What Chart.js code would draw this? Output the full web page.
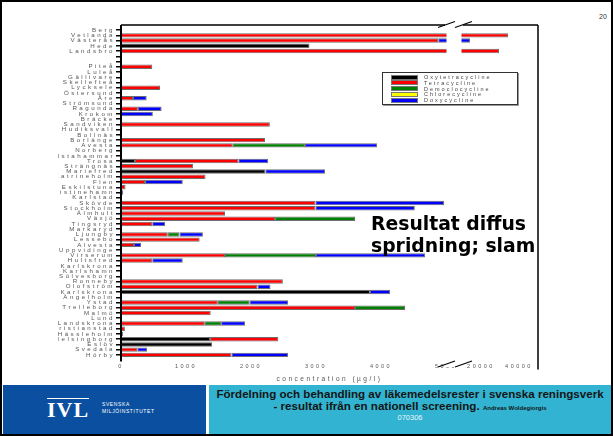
<!DOCTYPE html>
<html>
<head>
<meta charset="utf-8">
<script src="https://cdn.jsdelivr.net/npm/chart.js@4/dist/chart.umd.min.js"></script>
<style>
html, body { margin: 0; padding: 0; background: #fff; }
#slide { position: relative; width: 613px; height: 436px; overflow: hidden; background: #fff; font-family: "Liberation Sans", Arial, sans-serif; }
#frame { position: absolute; left: 0; top: 0; width: 609px; height: 432px; border: 2px solid #000; pointer-events: none; z-index: 5; }
#chartWrap { position: absolute; left: 58px; top: 12px; width: 490px; height: 373px; }
#pageNo { position: absolute; left: 599px; top: 13px; font-size: 7px; color: #333; }
#bigText { position: absolute; left: 371px; top: 213px; font-family: "DejaVu Sans", sans-serif; font-size: 18.8px; font-weight: bold; line-height: 22px; color: #000; }
#legend { position: absolute; left: 382px; top: 72px; width: 134px; height: 31px; border: 1px solid #333; box-shadow: 1px 1px 0 #999; background: #fff; }
.lg { position: absolute; left: 8px; height: 6px; font-size: 5.5px; letter-spacing: 2px; color: #444; white-space: nowrap; line-height: 6px; }
.lg i { display: inline-block; width: 25px; height: 3px; border: 1px solid #777; vertical-align: middle; margin-right: 6px; margin-top: -1px; }
#footBlue { position: absolute; left: 3px; top: 385px; width: 203px; height: 49px; background: #0b50a0; }
#footCyan { position: absolute; left: 209px; top: 385px; width: 402px; height: 49px; background: #31b3d1; text-align: center; }
#ivl { position: absolute; left: 47px; top: 398px; font-family: "Liberation Serif", "DejaVu Serif", serif; font-weight: bold; font-size: 22px; color: #fff; letter-spacing: 1px; line-height: 20px; border-top: 1px solid #fff; padding-top: 1px; }
#ivlSub { position: absolute; left: 102px; top: 401px; font-size: 5px; line-height: 7px; color: #fff; letter-spacing: 0.6px; }
.f1 { position: absolute; left: 0; width: 402px; top: 2px; font-size: 11.6px; font-weight: bold; color: #151515; white-space: nowrap; }
.f2 { position: absolute; left: 0; width: 402px; top: 14px; font-size: 11.6px; font-weight: bold; color: #151515; white-space: nowrap; }
.f2 small { font-size: 6px; }
.f3 { position: absolute; left: 0; width: 402px; top: 28px; font-size: 7.5px; color: #e9f5fb; }
</style>
</head>
<body>
<div id="slide">
  <div id="chartWrap"><canvas id="graficoBarras" width="490" height="373"></canvas></div>
  <div id="legend"></div>
  <div id="bigText">Resultat diffus<br>spridning; slam</div>
  <div id="pageNo">20</div>
  <div id="footBlue"></div>
  <div id="ivl">IVL</div>
  <div id="ivlSub">SVENSKA<br>MILJÖINSTITUTET</div>
  <div id="footCyan">
    <div class="f1">Fördelning och behandling av läkemedelsrester i svenska reningsverk</div>
    <div class="f2">- resultat ifrån en nationell screening. <small>Andreas Woldegiorgis</small></div>
    <div class="f3">070306</div>
  </div>
  <div id="frame"></div>
</div>
<script>
// Reningsverk (uppifrån och ned)
const CATEGORIES = [
    'Berg', 'Vetlanda', 'Västerås', 'Hede', 'Landsbro', '', '', 'Piteå', 'Luleå', 'Gällivare',
    'Skellefteå', 'Lycksele', 'Östersund', 'Åre', 'Strömsund', 'Ragunda', 'Krokom', 'Bräcke', 'Sandviken', 'Hudiksvall',
    'Bollnäs', 'Borlänge', 'Avesta', 'Norberg', 'Hallstahammar', 'Trosa', 'Strängnäs', 'Mariefred', 'Katrineholm', 'Flen',
    'Eskilstuna', 'Kristinehamn', 'Karlstad', 'Skövde', 'Stockholm', 'Älmhult', 'Växjö', 'Tingsryd', 'Markaryd', 'Ljungby',
    'Lessebo', 'Alvesta', 'Uppvidinge', 'Virserum', 'Hultsfred', 'Karlskrona', 'Karlshamn', 'Sölvesborg', 'Ronneby', 'Olofström',
    'Karlskrona', 'Ängelholm', 'Ystad', 'Trelleborg', 'Malmö', 'Lund', 'Landskrona', 'Kristianstad', 'Hässleholm', 'Helsingborg',
    'Eslöv', 'Svedala', 'Hörby'
];

const SERIES_NAMES = ['Oxytetracycline', 'Tetracycline', 'Democlocycline', 'Chlorecycline', 'Doxycycline'];
const SERIES_COLORS = ['#000000', '#ff0000', '#008000', '#ffff00', '#0000ff'];

// µg/l, null = ingen stapel
const OXYTETRACYCLINE = [
    null, null, null, 2900, null, null, null, null, null, null,
    null, null, null, null, null, null, null, null, null, null,
    null, null, null, null, null, 215, null, 2220, null, null,
    null, null, null, null, null, null, null, null, null, null,
    null, null, null, null, null, null, null, null, null, null,
    3830, null, null, null, null, null, null, null, null, 1370,
    1400, null, null
];
const TETRACYCLINE = [
    null, 34200, 4880, null, 29500, null, null, 480, null, null,
    null, 600, null, 185, null, 260, null, null, 2290, null,
    null, 2215, 1720, null, null, 1590, 1110, null, 1300, 370,
    70, null, null, 2990, 2990, 1600, 2370, 480, null, 720,
    1210, 200, null, 1600, 480, null, null, null, 2490, 2100,
    null, null, 1490, 3600, 1380, null, 1290, 60, null, 1050,
    null, 250, 1700
];
const DEMECLOCYCLINE = [
    null, null, null, null, null, null, null, null, null, null,
    null, null, null, null, null, null, null, null, null, null,
    null, null, 1110, null, null, null, null, null, null, null,
    null, null, null, null, null, null, 1230, null, null, 180,
    null, null, null, 1400, null, null, null, null, null, null,
    null, null, 490, 770, null, null, 250, null, null, null,
    null, null, null
];
const CHLORECYCLINE = [
    null, null, null, null, null, null, null, null, null, null,
    null, null, null, null, null, null, null, null, null, null,
    null, null, null, null, null, null, null, null, null, null,
    null, null, null, null, null, null, null, null, null, null,
    null, null, null, null, null, null, null, null, null, null,
    null, null, null, null, null, null, null, null, null, null,
    null, null, null
];
const DOXYCYCLINE = [
    null, null, 9320, null, null, null, null, null, null, null,
    null, null, null, 210, null, 365, 490, null, null, null,
    null, null, 1110, null, null, 460, null, 920, null, 580,
    null, 35, null, 1980, 1530, null, null, 200, null, 360,
    null, 110, null, 1680, 470, null, null, null, null, 200,
    310, null, 590, null, null, null, 370, null, 30, null,
    null, 150, 870
];
const SERIES_DATA = [OXYTETRACYCLINE, TETRACYCLINE, DEMECLOCYCLINE, CHLORECYCLINE, DOXYCYCLINE];

const X_TICKS = [0, 1000, 2000, 3000, 4000, 5000, 20000, 40000];
const X_TITLE = 'concentration (µg/l)';

// bruten axel: 0-5000 linjärt, sedan avbrott, sedan 10000-50000
const BREAK_LOW = 5000, BREAK_HIGH = 10000, X_MAX = 50000;
const LOW_FRAC = 325 / 417, GAP_FRAC = 16 / 417;

function toFraction(v) {
    if (v <= BREAK_LOW) return v / BREAK_LOW * LOW_FRAC;
    if (v < BREAK_HIGH) return LOW_FRAC + (v - BREAK_LOW) / (BREAK_HIGH - BREAK_LOW) * GAP_FRAC;
    return LOW_FRAC + GAP_FRAC + (v - BREAK_HIGH) / (X_MAX - BREAK_HIGH) * (1 - LOW_FRAC - GAP_FRAC);
}
function fromFraction(f) {
    if (f <= LOW_FRAC) return f / LOW_FRAC * BREAK_LOW;
    if (f < LOW_FRAC + GAP_FRAC) return BREAK_LOW + (f - LOW_FRAC) / GAP_FRAC * (BREAK_HIGH - BREAK_LOW);
    return BREAK_HIGH + (f - LOW_FRAC - GAP_FRAC) / (1 - LOW_FRAC - GAP_FRAC) * (X_MAX - BREAK_HIGH);
}

class BrokenLinearScale extends Chart.LinearScale {
    buildTicks() {
        this.start = this.min;
        this.end = this.max;
        return X_TICKS.map(v => ({ value: v }));
    }
    getPixelForValue(value) {
        return this.getPixelForDecimal(toFraction(value));
    }
    getValueForPixel(pixel) {
        return fromFraction(this.getDecimalForPixel(pixel));
    }
}
BrokenLinearScale.id = 'brokenLinear';
BrokenLinearScale.defaults = {};
Chart.register(BrokenLinearScale);

// glesa bokstäver som i originalet
const spacingPlugin = {
    id: 'spacing',
    beforeDraw(chart) { chart.ctx.letterSpacing = '2.5px'; }
};

// ram, vit lucka och brytmarkeringar
const framePlugin = {
    id: 'frame',
    afterDatasetsDraw(chart) {
        const { ctx, chartArea: a, scales: { x } } = chart;
        const p1 = x.getPixelForValue(BREAK_LOW);
        const p2 = x.getPixelForValue(BREAK_HIGH);
        const top = a.top - 2.5;
        const bottom = a.bottom + 4;
        ctx.save();
        ctx.fillStyle = '#fff';
        ctx.fillRect(p1 + 0.5, a.top, p2 - p1 - 1, a.bottom - a.top);
        ctx.strokeStyle = '#000';
        ctx.lineWidth = 2;
        ctx.beginPath();
        ctx.moveTo(a.left, top); ctx.lineTo(a.left, bottom);
        ctx.stroke();
        ctx.lineWidth = 1.5;
        ctx.beginPath();
        ctx.moveTo(a.left, top); ctx.lineTo(p1, top);
        ctx.moveTo(p2, top); ctx.lineTo(a.right, top);
        ctx.moveTo(a.right, top); ctx.lineTo(a.right, a.bottom + 12);
        ctx.stroke();
        ctx.lineWidth = 1.2;
        [top - 0.5, a.bottom + 6.5].forEach(y => {
            ctx.fillStyle = '#fff';
            ctx.fillRect(p1 - 1, y - 3, p2 - p1 + 2, 6);
            ctx.beginPath();
            ctx.moveTo(p1 - 8, y + 3); ctx.lineTo(p1 + 9, y - 3);
            ctx.moveTo(p2 - 7, y + 3); ctx.lineTo(p2 + 10, y - 3);
            ctx.stroke();
        });
        ctx.restore();
    }
};

// legend
const legendEl = document.getElementById('legend');
SERIES_NAMES.forEach((name, i) => {
    const row = document.createElement('div');
    row.className = 'lg';
    row.style.top = (1 + i * 5.8) + 'px';
    row.innerHTML = '<i style="background:' + SERIES_COLORS[i] + '"></i>' + name;
    legendEl.appendChild(row);
});

const ctx = document.getElementById('graficoBarras').getContext('2d');
const graficoBarras = new Chart(ctx, {
    type: 'bar',
    data: {
        labels: CATEGORIES,
        datasets: SERIES_NAMES.map((name, i) => ({
            label: name,
            data: SERIES_DATA[i],
            backgroundColor: SERIES_COLORS[i],
            borderColor: '#6e6e6e',
            borderWidth: 1,
            borderSkipped: false,
            barPercentage: 0.85,
            categoryPercentage: 1
        }))
    },
    options: {
        indexAxis: 'y',
        responsive: false,
        animation: false,
        layout: { padding: { top: 15.5, right: 10, left: 0, bottom: 0 } },
        plugins: {
            legend: { display: false },
            tooltip: { enabled: false }
        },
        scales: {
            x: {
                type: 'brokenLinear',
                stacked: true,
                min: 0,
                max: X_MAX,
                grid: { display: false, drawTicks: false },
                border: { display: false },
                ticks: {
                    autoSkip: false,
                    maxRotation: 0,
                    padding: 6,
                    color: '#555',
                    font: { family: 'Liberation Sans', size: 5.5 },
                    callback: v => String(v)
                },
                title: {
                    display: true,
                    text: X_TITLE,
                    color: '#555',
                    font: { family: 'Liberation Sans', size: 6.5 },
                    padding: { top: 0, bottom: 2 }
                },
                afterFit: s => { s.height = 27.5; }
            },
            y: {
                stacked: true,
                grid: { drawOnChartArea: false, offset: false, tickLength: 5, color: '#000', lineWidth: 1.5 },
                border: { display: false },
                ticks: {
                    autoSkip: false,
                    padding: 1,
                    color: '#555',
                    font: { family: 'Liberation Sans', size: 6.2 }
                },
                afterFit: s => { s.width = 63; }
            }
        }
    },
    plugins: [spacingPlugin, framePlugin]
});
</script>
</body>
</html>
